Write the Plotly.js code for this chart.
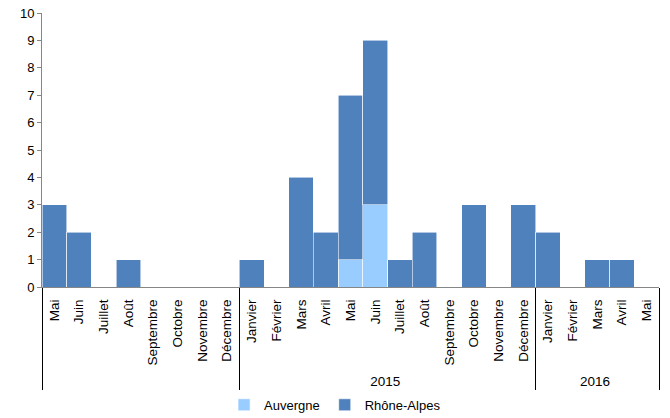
<!DOCTYPE html>
<html>
<head>
<meta charset="utf-8">
<script src="https://cdn.plot.ly/plotly-3.0.1.min.js"></script>
<style>
  html, body { margin: 0; padding: 0; background: #fff; }
  #chart { width: 670px; height: 418px; }
</style>
</head>
<body>
<div id="chart"></div>
<script>
// Year group for each month (first group is left unlabeled)
const years = [
  " ", " ", " ", " ", " ", " ", " ", " ",
  "2015", "2015", "2015", "2015", "2015", "2015", "2015", "2015", "2015", "2015", "2015", "2015",
  "2016", "2016", "2016", "2016", "2016"
];
const months = [
  "Mai", "Juin", "Juillet", "Août", "Septembre", "Octobre", "Novembre", "Décembre",
  "Janvier", "Février", "Mars", "Avril", "Mai", "Juin", "Juillet", "Août", "Septembre", "Octobre", "Novembre", "Décembre",
  "Janvier", "Février", "Mars", "Avril", "Mai"
];
const auvergne = [
  0, 0, 0, 0, 0, 0, 0, 0,
  0, 0, 0, 0, 1, 3, 0, 0, 0, 0, 0, 0,
  0, 0, 0, 0, 0
];
const rhoneAlpes = [
  3, 2, 0, 1, 0, 0, 0, 0,
  1, 0, 4, 2, 6, 6, 1, 2, 0, 3, 0, 3,
  2, 0, 1, 1, 0
];

// Plotly ranks inner categories by first appearance across all groups,
// so each year's month names get a distinct invisible suffix to keep
// the calendar order inside every group.
const groupIndex = {};
Array.from(new Set(years)).forEach((y, i) => { groupIndex[y] = i; });
const monthKeys = months.map((m, i) => m + "\u200b".repeat(groupIndex[years[i]]));

const axisGrey = "#868686";
const font = { family: "Liberation Sans, Arial, sans-serif", size: 13, color: "#000" };
const monthFont = { family: "Liberation Sans, Arial, sans-serif", size: 13.5, color: "#000" };

const traces = [
  {
    type: "bar",
    name: "Auvergne",
    x: [years, monthKeys],
    y: auvergne,
    marker: { color: "#99CCFF", line: { color: "rgba(255,255,255,0.7)", width: 0.8 } }
  },
  {
    type: "bar",
    name: "Rhône-Alpes",
    x: [years, monthKeys],
    y: rhoneAlpes,
    marker: { color: "#4F81BD", line: { color: "rgba(255,255,255,0.7)", width: 0.8 } }
  }
];

const layout = {
  width: 670,
  height: 418,
  margin: { l: 42, r: 11, t: 13, b: 131, autoexpand: false },
  paper_bgcolor: "#fff",
  plot_bgcolor: "#fff",
  font: font,
  barmode: "stack",
  bargap: 0,
  showlegend: true,
  legend: {
    orientation: "h",
    traceorder: "normal",
    x: 0.475,
    xanchor: "center",
    y: -0.43,
    yanchor: "middle",
    font: font,
    itemwidth: 30,
    tracegroupgap: 0
  },
  xaxis: {
    type: "multicategory",
    showline: true,
    linecolor: axisGrey,
    linewidth: 1,
    ticks: "",
    tickangle: -90,
    tickfont: monthFont,
    ticklabelstandoff: 6,
    showgrid: false,
    showdividers: true,
    dividercolor: "#000",
    dividerwidth: 1
  },
  yaxis: {
    range: [0, 10],
    dtick: 1,
    showline: true,
    linecolor: axisGrey,
    linewidth: 1,
    ticks: "outside",
    ticklen: 4,
    tickcolor: axisGrey,
    showgrid: false,
    zeroline: false,
    tickfont: font
  }
};

Plotly.newPlot("chart", traces, layout, { displayModeBar: false, staticPlot: true });
</script>
</body>
</html>
